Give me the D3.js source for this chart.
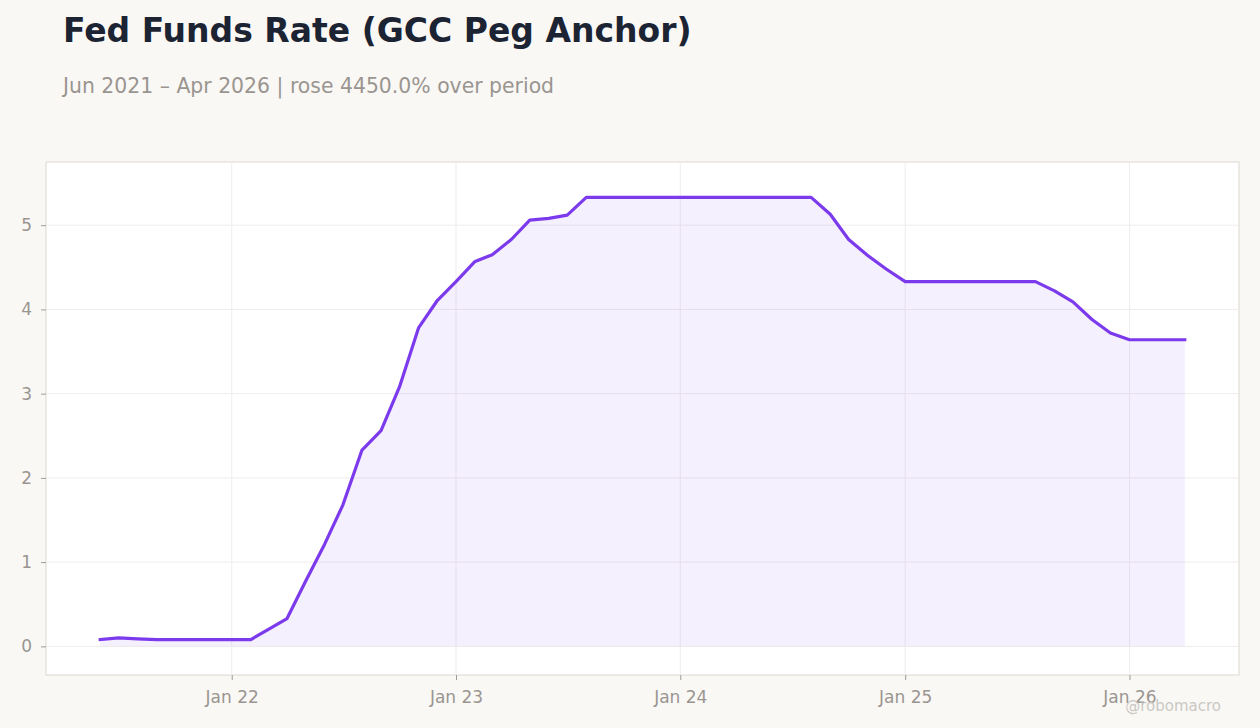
<!DOCTYPE html>
<html><head><meta charset="utf-8">
<script src="https://cdn.jsdelivr.net/npm/d3@7"></script>
<style>
body{margin:0;background:#f9f8f5;}
svg{display:block;font-family:"DejaVu Sans",sans-serif;}
</style></head><body>
<svg id="c" width="1260" height="728"></svg>
<script>
const months = ["2021-06","2021-07","2021-08","2021-09","2021-10","2021-11","2021-12",
"2022-01","2022-02","2022-03","2022-04","2022-05","2022-06","2022-07","2022-08","2022-09","2022-10","2022-11","2022-12",
"2023-01","2023-02","2023-03","2023-04","2023-05","2023-06","2023-07","2023-08","2023-09","2023-10","2023-11","2023-12",
"2024-01","2024-02","2024-03","2024-04","2024-05","2024-06","2024-07","2024-08","2024-09","2024-10","2024-11","2024-12",
"2025-01","2025-02","2025-03","2025-04","2025-05","2025-06","2025-07","2025-08","2025-09","2025-10","2025-11","2025-12",
"2026-01","2026-02","2026-03","2026-04"];
const rates = [0.08,0.10,0.09,0.08,0.08,0.08,0.08,
0.08,0.08,0.20,0.33,0.77,1.21,1.68,2.33,2.56,3.08,3.78,4.10,
4.33,4.57,4.65,4.83,5.06,5.08,5.12,5.33,5.33,5.33,5.33,5.33,
5.33,5.33,5.33,5.33,5.33,5.33,5.33,5.33,5.13,4.83,4.64,4.48,
4.33,4.33,4.33,4.33,4.33,4.33,4.33,4.33,4.22,4.09,3.88,3.72,
3.64,3.64,3.64,3.64];
const yTicks = [0,1,2,3,4,5];
const xTickDates = ["2022-01","2023-01","2024-01","2025-01","2026-01"];
const title = "Fed Funds Rate (GCC Peg Anchor)";
const subtitle = "Jun 2021 – Apr 2026 | rose 4450.0% over period";

const parse = d3.timeParse("%Y-%m");
const data = months.map((m,i)=>({d:parse(m), v:rates[i]}));

const svg = d3.select("#c");
const L=46, R=1239, T=162, B=675;

svg.append("text").attr("x",63).attr("y",42).attr("font-size",33).attr("font-weight","bold")
  .attr("fill","#1c2433").text(title);
svg.append("text").attr("x",63).attr("y",93).attr("font-size",20.4)
  .attr("fill","#9a9590").text(subtitle);

svg.append("rect").attr("x",L).attr("y",T).attr("width",R-L).attr("height",B-T)
  .attr("fill","#ffffff").attr("stroke","#ddd8d2").attr("stroke-width",1);

const ext = d3.extent(data,d=>d.d);
const span = ext[1]-ext[0];
const x = d3.scaleTime().domain([new Date(+ext[0]-span*0.05), new Date(+ext[1]+span*0.05)]).range([L,R]);
const vmin = d3.min(rates), vmax = d3.max(rates), vr = vmax-vmin;
const y = d3.scaleLinear().domain([vmin-vr*0.08, vmax+vr*0.08]).range([B,T]);

const g = svg.append("g");
g.selectAll(".gy").data(yTicks).join("line")
  .attr("x1",L).attr("x2",R).attr("y1",d=>y(d)).attr("y2",d=>y(d))
  .attr("stroke","#efedeb").attr("stroke-width",1);
g.selectAll(".gx").data(xTickDates.map(parse)).join("line")
  .attr("y1",T).attr("y2",B).attr("x1",d=>x(d)).attr("x2",d=>x(d))
  .attr("stroke","#efedeb").attr("stroke-width",1);

g.append("path").datum(data)
  .attr("d",d3.area().x(d=>x(d.d)).y0(y(0)).y1(d=>y(d.v)))
  .attr("fill","#7c3aed").attr("fill-opacity",0.08);
g.append("path").datum(data)
  .attr("d",d3.line().x(d=>x(d.d)).y(d=>y(d.v)))
  .attr("fill","none").attr("stroke","#7c3aed").attr("stroke-width",3.2)
  .attr("stroke-linejoin","round").attr("stroke-linecap","square");

const ya = svg.append("g").attr("transform",`translate(${L},0)`)
  .call(d3.axisLeft(y).tickValues(yTicks).tickSize(5).tickPadding(9).tickFormat(d3.format("d")));
ya.select(".domain").remove();
ya.selectAll("line").attr("stroke","#a09a94");
ya.selectAll("text").attr("font-size",17).attr("fill","#9a9590").attr("font-family","DejaVu Sans");

const xa = svg.append("g").attr("transform",`translate(0,${B})`)
  .call(d3.axisBottom(x).tickValues(xTickDates.map(parse)).tickSize(5).tickPadding(11).tickFormat(d3.timeFormat("%b %y")));
xa.select(".domain").remove();
xa.selectAll("line").attr("stroke","#a09a94");
xa.selectAll("text").attr("font-size",17).attr("fill","#9a9590").attr("font-family","DejaVu Sans");

svg.append("text").attr("x",1221).attr("y",711).attr("text-anchor","end").attr("font-size",15)
  .attr("fill","#cbc8c4").text("@robomacro");
</script></body></html>
